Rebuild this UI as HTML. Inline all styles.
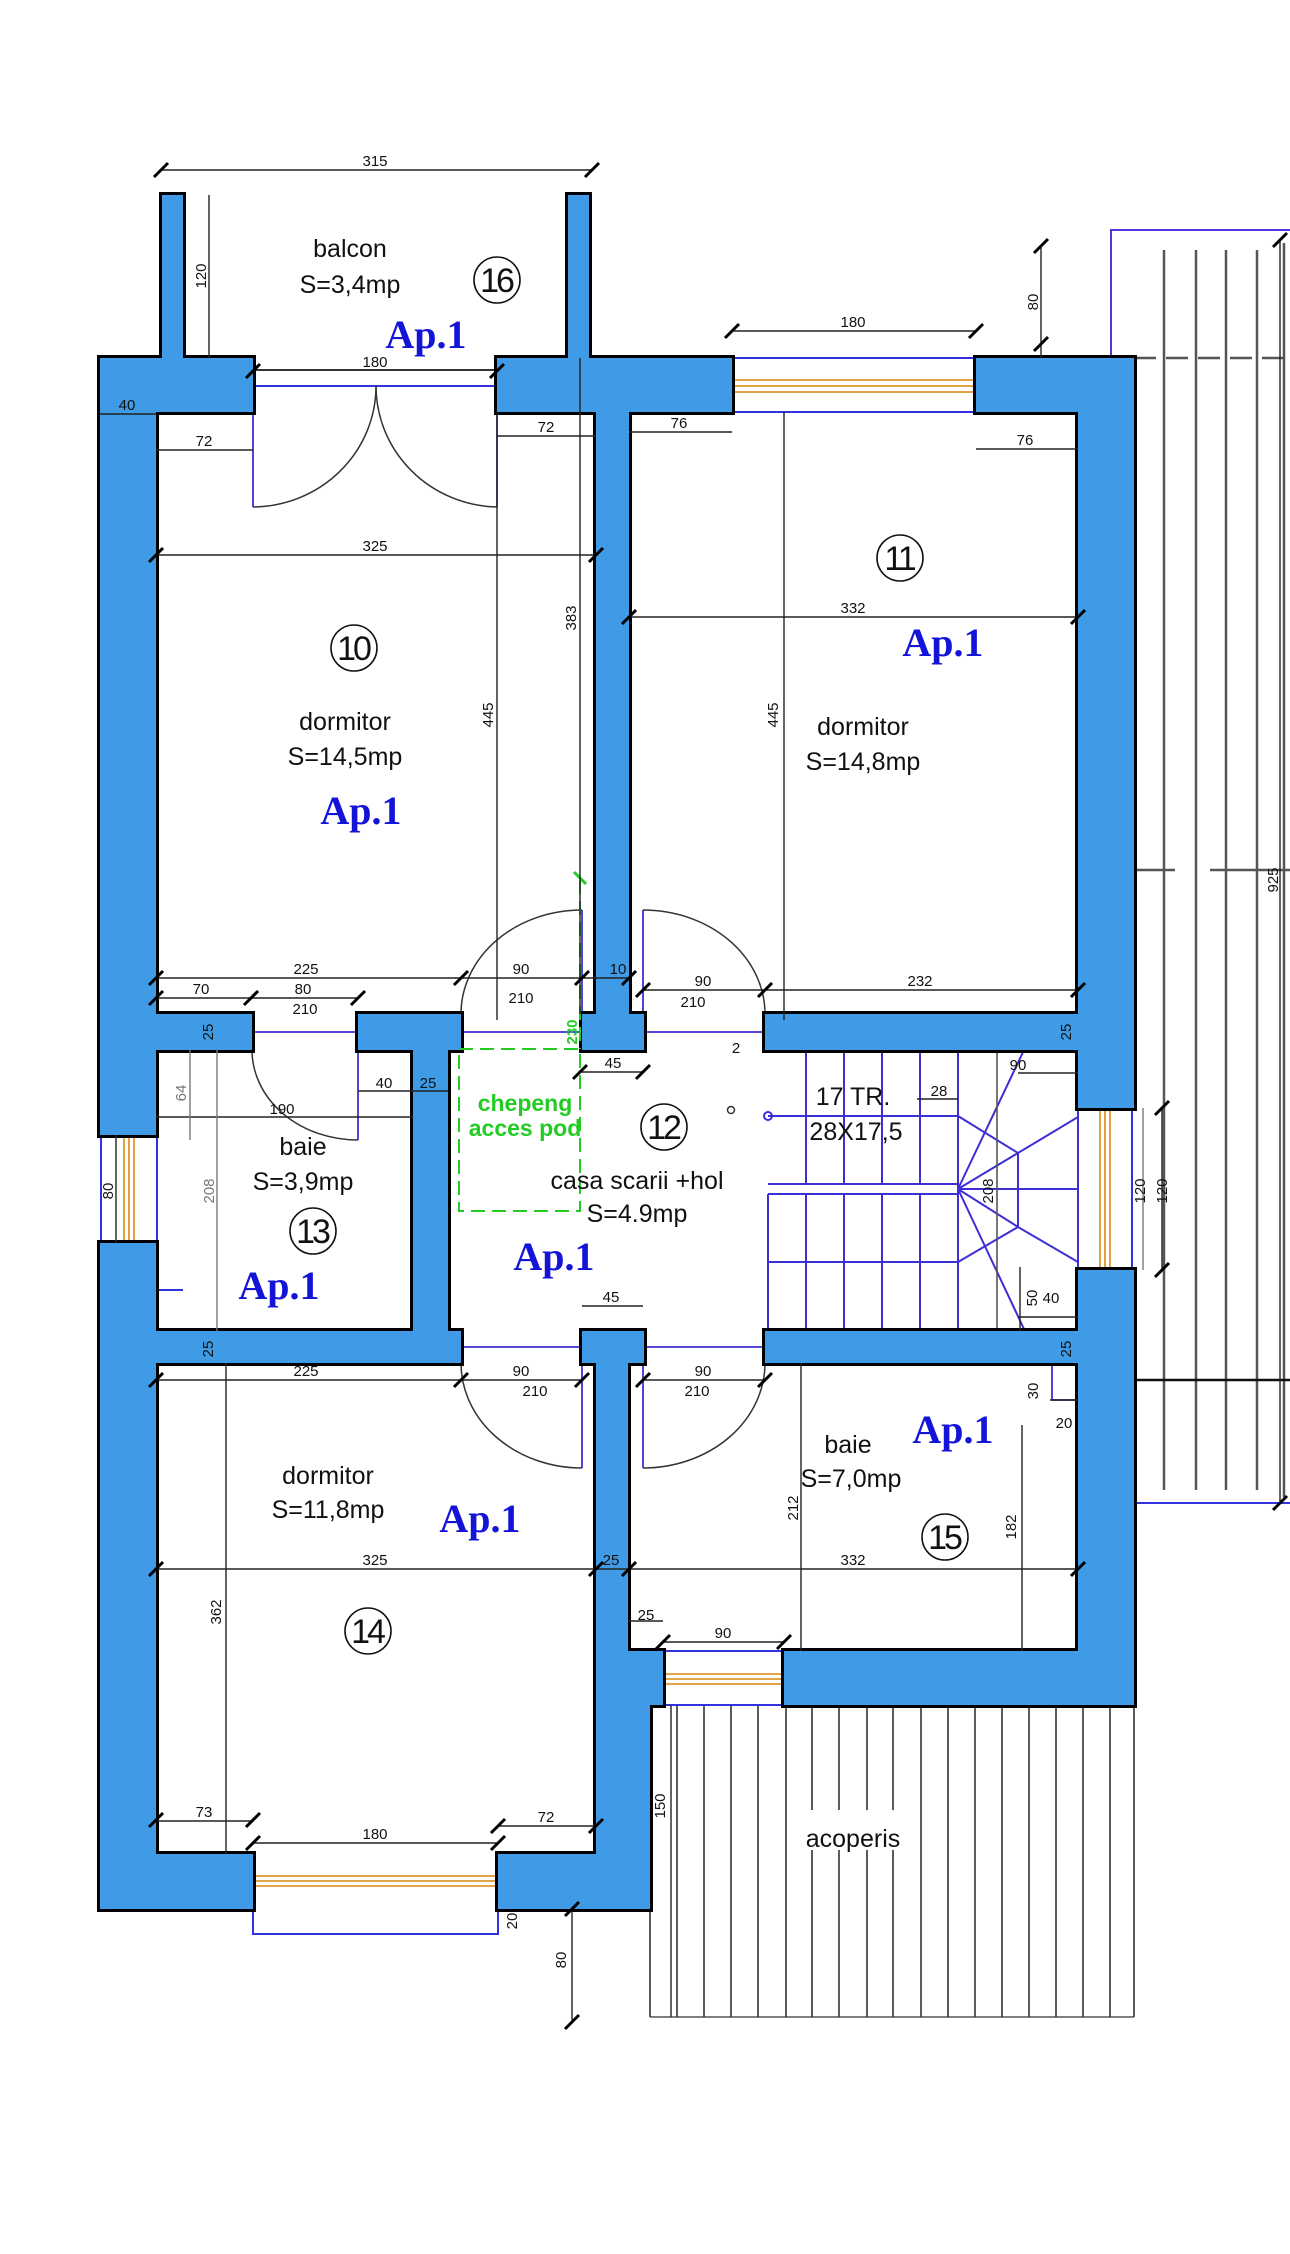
<!DOCTYPE html>
<html><head><meta charset="utf-8"><style>
html,body{margin:0;padding:0;background:#fff;}
svg{display:block}
.d{font-family:"Liberation Sans",sans-serif;font-size:15px;fill:#111;text-anchor:middle}
.l{font-family:"Liberation Sans",sans-serif;font-size:25px;fill:#111;text-anchor:middle}
.n{font-family:"Liberation Sans",sans-serif;font-size:34px;fill:#111;text-anchor:middle;letter-spacing:-3px}
.ap{font-family:"Liberation Serif",serif;font-size:40px;font-weight:bold;fill:#1414d8;text-anchor:middle}
.g{font-family:"Liberation Sans",sans-serif;font-size:23px;font-weight:bold;fill:#22cc22;text-anchor:middle}
</style></head><body>
<svg width="1290" height="2254" viewBox="0 0 1290 2254" xmlns="http://www.w3.org/2000/svg">
<!-- right roof area -->
<g stroke="#555" stroke-width="2.5" fill="none">
<line x1="1164" y1="250" x2="1164" y2="1490"/><line x1="1196" y1="250" x2="1196" y2="1490"/>
<line x1="1226" y1="250" x2="1226" y2="1490"/><line x1="1257" y1="250" x2="1257" y2="1490"/>
<line x1="1284" y1="243" x2="1284" y2="1497"/>
<line x1="1134" y1="358" x2="1290" y2="358" stroke-dasharray="22,10"/>
<line x1="1134" y1="870" x2="1175" y2="870"/><line x1="1210" y1="870" x2="1290" y2="870"/>
<line x1="1134" y1="1380" x2="1290" y2="1380" stroke="#111"/>
</g>
<polyline points="1111,358 1111,230 1290,230" stroke="#5533dd" stroke-width="2" fill="none"/>
<line x1="1134" y1="1503" x2="1290" y2="1503" stroke="#3333dd" stroke-width="2"/>
<!-- bottom roof hatch -->
<g stroke="#333" stroke-width="1.6">
<line x1="650" y1="2017" x2="1134" y2="2017" stroke="#555"/>
<line x1="650" y1="1705" x2="650" y2="2017"/>
<line x1="677" y1="1705" x2="677" y2="2017"/><line x1="704" y1="1705" x2="704" y2="2017"/>
<line x1="731" y1="1705" x2="731" y2="2017"/><line x1="758" y1="1705" x2="758" y2="2017"/>
<line x1="786" y1="1705" x2="786" y2="2017"/><line x1="812" y1="1705" x2="812" y2="2017"/>
<line x1="839" y1="1705" x2="839" y2="2017"/><line x1="867" y1="1705" x2="867" y2="2017"/>
<line x1="893" y1="1705" x2="893" y2="2017"/><line x1="921" y1="1705" x2="921" y2="2017"/>
<line x1="948" y1="1705" x2="948" y2="2017"/><line x1="975" y1="1705" x2="975" y2="2017"/>
<line x1="1002" y1="1705" x2="1002" y2="2017"/><line x1="1029" y1="1705" x2="1029" y2="2017"/>
<line x1="1056" y1="1705" x2="1056" y2="2017"/><line x1="1083" y1="1705" x2="1083" y2="2017"/>
<line x1="1110" y1="1705" x2="1110" y2="2017"/><line x1="1134" y1="1705" x2="1134" y2="2017"/>
</g>
<rect x="800" y="1810" width="110" height="40" fill="#fff"/>

<!-- windows -->
<g stroke="#3333dd" stroke-width="2" fill="none">
<line x1="253" y1="370" x2="497" y2="370" stroke="#333"/><line x1="253" y1="386" x2="497" y2="386"/>
<line x1="732" y1="358" x2="976" y2="358"/><line x1="732" y1="412" x2="976" y2="412"/>
<line x1="101" y1="1135" x2="101" y2="1243"/><line x1="157" y1="1135" x2="157" y2="1243"/>
<line x1="1078" y1="1108" x2="1078" y2="1270"/><line x1="1132" y1="1108" x2="1132" y2="1270"/>
<line x1="663" y1="1651" x2="784" y2="1651"/><line x1="663" y1="1705" x2="784" y2="1705"/>
<polyline points="253,1909 253,1934 498,1934 498,1909"/>
<line x1="157" y1="1290" x2="183" y2="1290"/>
</g>
<g stroke="#e0962a" stroke-width="1.8">
<line x1="732" y1="380" x2="976" y2="380"/><line x1="732" y1="386" x2="976" y2="386"/><line x1="732" y1="392" x2="976" y2="392"/>
<line x1="124" y1="1135" x2="124" y2="1243"/><line x1="129" y1="1135" x2="129" y2="1243"/><line x1="134" y1="1135" x2="134" y2="1243"/>
<line x1="1100" y1="1108" x2="1100" y2="1270"/><line x1="1105" y1="1108" x2="1105" y2="1270"/><line x1="1110" y1="1108" x2="1110" y2="1270"/>
<line x1="665" y1="1674" x2="784" y2="1674"/><line x1="665" y1="1679" x2="784" y2="1679"/><line x1="665" y1="1684" x2="784" y2="1684"/>
<line x1="253" y1="1876" x2="498" y2="1876"/><line x1="253" y1="1881" x2="498" y2="1881"/><line x1="253" y1="1886" x2="498" y2="1886"/>
</g>

<!-- stairs -->
<g stroke="#3d2fd6" stroke-width="2" fill="none">
<line x1="768" y1="1116" x2="958" y2="1116"/><line x1="768" y1="1184" x2="958" y2="1184"/>
<line x1="768" y1="1194" x2="958" y2="1194"/><line x1="768" y1="1262" x2="958" y2="1262"/>
<line x1="806" y1="1050" x2="806" y2="1184"/><line x1="844" y1="1050" x2="844" y2="1184"/>
<line x1="882" y1="1050" x2="882" y2="1184"/><line x1="920" y1="1050" x2="920" y2="1184"/>
<line x1="958" y1="1050" x2="958" y2="1329"/>
<line x1="806" y1="1194" x2="806" y2="1329"/><line x1="844" y1="1194" x2="844" y2="1329"/>
<line x1="882" y1="1194" x2="882" y2="1329"/><line x1="920" y1="1194" x2="920" y2="1329"/>
<line x1="768" y1="1194" x2="768" y2="1329"/>
<polyline points="958,1116 1018,1153 1078,1117"/>
<polyline points="958,1262 1018,1227 1078,1262"/>
<line x1="1018" y1="1153" x2="1018" y2="1227"/>
<line x1="958" y1="1189" x2="1018" y2="1153"/><line x1="958" y1="1189" x2="1078" y2="1189"/>
<line x1="958" y1="1189" x2="1018" y2="1227"/>
<line x1="958" y1="1189" x2="1024" y2="1050"/><line x1="958" y1="1189" x2="1024" y2="1329"/>
<line x1="1078" y1="1049" x2="1078" y2="1329"/>
<circle cx="768" cy="1116" r="4"/>
</g>
<circle cx="731" cy="1110" r="3.5" stroke="#333" stroke-width="1.5" fill="none"/>
<line x1="997" y1="1050" x2="997" y2="1329" stroke="#555" stroke-width="1.6"/>

<!-- door thresholds & leaves -->
<g stroke="#3d2fd6" stroke-width="1.8" fill="none">
<line x1="461" y1="1032" x2="582" y2="1032"/><line x1="643" y1="1032" x2="765" y2="1032"/>
<line x1="252" y1="1032" x2="358" y2="1032"/>
<line x1="461" y1="1347" x2="582" y2="1347"/><line x1="643" y1="1347" x2="765" y2="1347"/>
<line x1="253" y1="412" x2="253" y2="507"/><line x1="497" y1="412" x2="497" y2="507"/>
<line x1="582" y1="910" x2="582" y2="1014"/><line x1="643" y1="910" x2="643" y2="1014"/>
<line x1="358" y1="1050" x2="358" y2="1140"/>
<line x1="582" y1="1363" x2="582" y2="1468"/><line x1="643" y1="1363" x2="643" y2="1468"/>
<line x1="1052" y1="1363" x2="1052" y2="1400"/><line x1="1052" y1="1400" x2="1078" y2="1400"/>
</g>
<g stroke="#333" stroke-width="1.5" fill="none">
<path d="M253,507 A124,121 0 0 0 376,386"/>
<path d="M497,507 A124,121 0 0 1 376,386"/>
<path d="M461,1014 A121,104 0 0 1 582,910"/>
<path d="M643,910 A122,104 0 0 1 765,1014"/>
<path d="M252,1050 A106,90 0 0 0 358,1140"/>
<path d="M461,1363 A121,105 0 0 0 582,1468"/>
<path d="M643,1468 A122,105 0 0 0 765,1363"/>
</g>

<!-- walls -->
<g fill="#000" stroke="#000" stroke-width="6" stroke-linejoin="miter">
<rect x="100" y="358" width="56" height="777"/>
<rect x="100" y="1243" width="56" height="666"/>
<rect x="100" y="358" width="153" height="54"/>
<rect x="162" y="195" width="21" height="163"/>
<rect x="568" y="195" width="21" height="163"/>
<rect x="497" y="358" width="235" height="54"/>
<rect x="596" y="412" width="33" height="637"/>
<rect x="582" y="1014" width="62" height="36"/>
<rect x="976" y="358" width="158" height="54"/>
<rect x="1078" y="358" width="56" height="750"/>
<rect x="156" y="1014" width="96" height="36"/>
<rect x="358" y="1014" width="103" height="36"/>
<rect x="413" y="1014" width="35" height="349"/>
<rect x="765" y="1014" width="313" height="36"/>
<rect x="156" y="1331" width="305" height="32"/>
<rect x="582" y="1331" width="62" height="32"/>
<rect x="596" y="1331" width="32" height="578"/>
<rect x="596" y="1651" width="67" height="54"/>
<rect x="596" y="1705" width="54" height="204"/>
<rect x="765" y="1331" width="313" height="32"/>
<rect x="1078" y="1270" width="56" height="435"/>
<rect x="784" y="1651" width="350" height="54"/>
<rect x="100" y="1854" width="153" height="55"/>
<rect x="498" y="1854" width="152" height="55"/>
</g>
<g fill="#3f9be6">
<rect x="100" y="358" width="56" height="777"/>
<rect x="100" y="1243" width="56" height="666"/>
<rect x="100" y="358" width="153" height="54"/>
<rect x="162" y="195" width="21" height="163"/>
<rect x="568" y="195" width="21" height="163"/>
<rect x="497" y="358" width="235" height="54"/>
<rect x="596" y="412" width="33" height="637"/>
<rect x="582" y="1014" width="62" height="36"/>
<rect x="976" y="358" width="158" height="54"/>
<rect x="1078" y="358" width="56" height="750"/>
<rect x="156" y="1014" width="96" height="36"/>
<rect x="358" y="1014" width="103" height="36"/>
<rect x="413" y="1014" width="35" height="349"/>
<rect x="765" y="1014" width="313" height="36"/>
<rect x="156" y="1331" width="305" height="32"/>
<rect x="582" y="1331" width="62" height="32"/>
<rect x="596" y="1331" width="32" height="578"/>
<rect x="596" y="1651" width="67" height="54"/>
<rect x="596" y="1705" width="54" height="204"/>
<rect x="765" y="1331" width="313" height="32"/>
<rect x="1078" y="1270" width="56" height="435"/>
<rect x="784" y="1651" width="350" height="54"/>
<rect x="100" y="1854" width="153" height="55"/>
<rect x="498" y="1854" width="152" height="55"/>
</g>

<!-- green hatch -->
<g stroke="#22cc22" stroke-width="2" fill="none" stroke-dasharray="14,7">
<rect x="459" y="1049" width="121" height="162"/>
<line x1="580" y1="880" x2="580" y2="1049"/>
</g>
<line x1="574" y1="872" x2="586" y2="884" stroke="#22cc22" stroke-width="3"/>

<!-- dimension lines -->
<g stroke="#222" stroke-width="1.4">
<line x1="161" y1="170" x2="592" y2="170"/>
<line x1="209" y1="195" x2="209" y2="358"/>
<line x1="100" y1="414" x2="156" y2="414"/>
<line x1="156" y1="450" x2="253" y2="450"/>
<line x1="497" y1="436" x2="596" y2="436"/>
<line x1="629" y1="432" x2="732" y2="432"/>
<line x1="976" y1="449" x2="1078" y2="449"/>
<line x1="732" y1="331" x2="976" y2="331"/>
<line x1="1041" y1="246" x2="1041" y2="358"/>
<line x1="156" y1="555" x2="596" y2="555"/>
<line x1="629" y1="617" x2="1078" y2="617"/>
<line x1="497" y1="412" x2="497" y2="1020"/>
<line x1="580" y1="358" x2="580" y2="1014"/>
<line x1="784" y1="412" x2="784" y2="1020"/>
<line x1="156" y1="978" x2="629" y2="978"/>
<line x1="643" y1="990" x2="1078" y2="990"/>
<line x1="156" y1="998" x2="358" y2="998"/>
<line x1="580" y1="1072" x2="643" y2="1072"/>
<line x1="1018" y1="1073" x2="1078" y2="1073"/>
<line x1="917" y1="1099" x2="958" y2="1099"/>
<line x1="156" y1="1117" x2="413" y2="1117"/>
<line x1="358" y1="1091" x2="448" y2="1091"/>
<line x1="190" y1="1050" x2="190" y2="1140" stroke="#777"/>
<line x1="116" y1="1135" x2="116" y2="1243"/>
<line x1="217" y1="1050" x2="217" y2="1331" stroke="#777"/>
<line x1="1162" y1="1108" x2="1162" y2="1270"/>
<line x1="1143" y1="1108" x2="1143" y2="1270" stroke="#777"/>
<line x1="582" y1="1306" x2="643" y2="1306"/>
<line x1="1020" y1="1267" x2="1020" y2="1331"/>
<line x1="1018" y1="1317" x2="1078" y2="1317"/>
<line x1="156" y1="1380" x2="582" y2="1380"/>
<line x1="643" y1="1380" x2="765" y2="1380"/>
<line x1="801" y1="1363" x2="801" y2="1651"/>
<line x1="1022" y1="1425" x2="1022" y2="1651"/>
<line x1="1050" y1="1400" x2="1078" y2="1400"/>
<line x1="156" y1="1569" x2="1078" y2="1569"/>
<line x1="226" y1="1363" x2="226" y2="1854"/>
<line x1="629" y1="1621" x2="663" y2="1621"/>
<line x1="663" y1="1642" x2="784" y2="1642"/>
<line x1="671" y1="1705" x2="671" y2="2017"/>
<line x1="156" y1="1821" x2="253" y2="1821"/>
<line x1="498" y1="1826" x2="596" y2="1826"/>
<line x1="253" y1="1843" x2="498" y2="1843"/>
<line x1="572" y1="1909" x2="572" y2="2022"/>
<line x1="1280" y1="240" x2="1280" y2="1503"/>
</g>
<g stroke="#000" stroke-width="3">
<path d="M154,177 l14,-14 M585,177 l14,-14 M246,378 l14,-14 M490,378 l14,-14 M725,338 l14,-14 M969,338 l14,-14
M1034,253 l14,-14 M1034,351 l14,-14 M149,562 l14,-14 M589,562 l14,-14 M622,624 l14,-14 M1071,624 l14,-14
M149,985 l14,-14 M454,985 l14,-14 M575,985 l14,-14 M622,985 l14,-14 M636,997 l14,-14 M758,997 l14,-14 M1071,997 l14,-14
M149,1005 l14,-14 M244,1005 l14,-14 M351,1005 l14,-14 M573,1079 l14,-14 M636,1079 l14,-14
M149,1827 l14,-14 M246,1827 l14,-14 M491,1833 l14,-14 M589,1833 l14,-14 M246,1850 l14,-14 M491,1850 l14,-14
M149,1387 l14,-14 M454,1387 l14,-14 M575,1387 l14,-14 M636,1387 l14,-14 M758,1387 l14,-14
M149,1576 l14,-14 M589,1576 l14,-14 M622,1576 l14,-14 M1071,1576 l14,-14 M656,1649 l14,-14 M777,1649 l14,-14
M565,1916 l14,-14 M565,2029 l14,-14 M1273,247 l14,-14 M1273,1510 l14,-14 M1155,1115 l14,-14 M1155,1277 l14,-14"/>
</g>

<!-- dimension text -->
<g class="d">
<text x="375" y="166">315</text>
<text x="375" y="367">180</text>
<text x="127" y="410">40</text>
<text x="204" y="446">72</text>
<text x="546" y="432">72</text>
<text x="679" y="428">76</text>
<text x="1025" y="445">76</text>
<text x="853" y="327">180</text>
<text x="375" y="551">325</text>
<text x="853" y="613">332</text>
<text x="306" y="974">225</text>
<text x="521" y="974">90</text>
<text x="618" y="974">10</text>
<text x="703" y="986">90</text>
<text x="920" y="986">232</text>
<text x="201" y="994">70</text>
<text x="303" y="994">80</text>
<text x="305" y="1014">210</text>
<text x="521" y="1003">210</text>
<text x="693" y="1007">210</text>
<text x="736" y="1053">2</text>
<text x="613" y="1068">45</text>
<text x="1018" y="1070">90</text>
<text x="939" y="1096">28</text>
<text x="384" y="1088">40</text>
<text x="428" y="1088">25</text>
<text x="282" y="1114">190</text>
<text x="611" y="1302">45</text>
<text x="1051" y="1303">40</text>
<text x="306" y="1376">225</text>
<text x="521" y="1376">90</text>
<text x="535" y="1396">210</text>
<text x="703" y="1376">90</text>
<text x="697" y="1396">210</text>
<text x="1064" y="1428">20</text>
<text x="375" y="1565">325</text>
<text x="611" y="1565">25</text>
<text x="853" y="1565">332</text>
<text x="646" y="1620">25</text>
<text x="723" y="1638">90</text>
<text x="204" y="1817">73</text>
<text x="546" y="1822">72</text>
<text x="375" y="1839">180</text>
</g>
<g class="d">
<text transform="translate(206,276) rotate(-90)">120</text>
<text transform="translate(1038,302) rotate(-90)">80</text>
<text transform="translate(576,618) rotate(-90)">383</text>
<text transform="translate(493,715) rotate(-90)">445</text>
<text transform="translate(778,715) rotate(-90)">445</text>
<text transform="translate(1278,880) rotate(-90)">925</text>
<text transform="translate(213,1032) rotate(-90)">25</text>
<text transform="translate(1071,1032) rotate(-90)">25</text>
<text transform="translate(186,1093) rotate(-90)" fill="#777">64</text>
<text transform="translate(113,1191) rotate(-90)">80</text>
<text transform="translate(214,1191) rotate(-90)" fill="#777">208</text>
<text transform="translate(993,1191) rotate(-90)">208</text>
<text transform="translate(1145,1191) rotate(-90)">120</text>
<text transform="translate(1167,1191) rotate(-90)">120</text>
<text transform="translate(1037,1298) rotate(-90)">50</text>
<text transform="translate(213,1349) rotate(-90)">25</text>
<text transform="translate(1071,1349) rotate(-90)">25</text>
<text transform="translate(1038,1391) rotate(-90)">30</text>
<text transform="translate(798,1508) rotate(-90)">212</text>
<text transform="translate(1016,1527) rotate(-90)">182</text>
<text transform="translate(221,1612) rotate(-90)">362</text>
<text transform="translate(665,1806) rotate(-90)">150</text>
<text transform="translate(517,1921) rotate(-90)">20</text>
<text transform="translate(566,1960) rotate(-90)">80</text>
</g>
<text transform="translate(577,1032) rotate(-90)" class="d" style="fill:#22cc22;font-weight:bold">230</text>

<!-- room labels -->
<g class="l">
<text x="350" y="257">balcon</text><text x="350" y="293">S=3,4mp</text>
<text x="345" y="730">dormitor</text><text x="345" y="765">S=14,5mp</text>
<text x="863" y="735">dormitor</text><text x="863" y="770">S=14,8mp</text>
<text x="853" y="1105">17 TR.</text><text x="856" y="1140">28X17,5</text>
<text x="303" y="1155">baie</text><text x="303" y="1190">S=3,9mp</text>
<text x="637" y="1189">casa scarii +hol</text><text x="637" y="1222">S=4.9mp</text>
<text x="848" y="1453">baie</text><text x="851" y="1487">S=7,0mp</text>
<text x="328" y="1484">dormitor</text><text x="328" y="1518">S=11,8mp</text>
<text x="853" y="1847">acoperis</text>
</g>
<g class="g"><text x="525" y="1111">chepeng</text><text x="525" y="1136">acces pod</text></g>
<g stroke="#111" stroke-width="1.6" fill="none">
<circle cx="497" cy="280" r="23"/><circle cx="354" cy="648" r="23"/><circle cx="900" cy="558" r="23"/>
<circle cx="664" cy="1127" r="23"/><circle cx="313" cy="1231" r="23"/><circle cx="945" cy="1537" r="23"/><circle cx="368" cy="1631" r="23"/>
</g>
<g class="n">
<text x="496" y="292">16</text><text x="353" y="660">10</text><text x="899" y="570">11</text>
<text x="663" y="1139">12</text><text x="312" y="1243">13</text><text x="944" y="1549">15</text><text x="367" y="1643">14</text>
</g>
<g class="ap">
<text x="426" y="348">Ap.1</text>
<text x="361" y="824">Ap.1</text>
<text x="943" y="656">Ap.1</text>
<text x="554" y="1270">Ap.1</text>
<text x="279" y="1299">Ap.1</text>
<text x="953" y="1443">Ap.1</text>
<text x="480" y="1532">Ap.1</text>
</g>
</svg>
</body></html>
